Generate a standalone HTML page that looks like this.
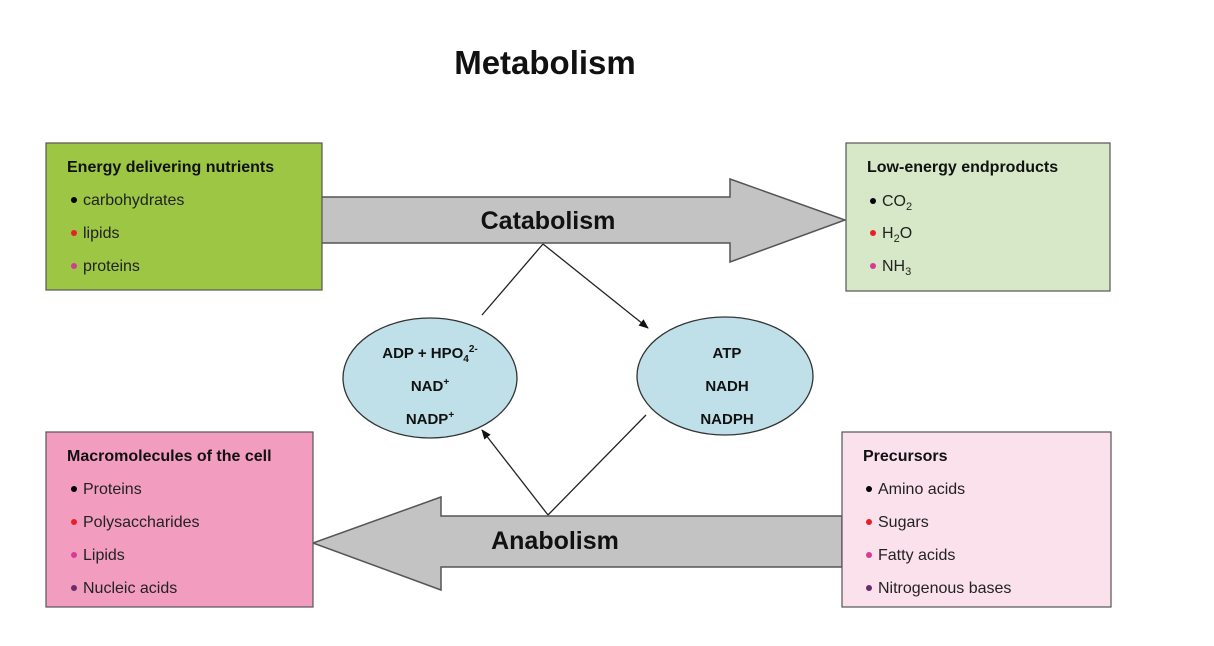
<!DOCTYPE html>
<html><head><meta charset="utf-8"><style>
html,body{margin:0;padding:0;background:#fff;width:1214px;height:646px;overflow:hidden;font-family:"Liberation Sans",Arial,sans-serif;}
</style></head><body>
<svg width="1214" height="646" xmlns="http://www.w3.org/2000/svg" font-family="Liberation Sans, Arial, sans-serif">
<defs><marker id="ah" markerWidth="10" markerHeight="10" refX="9" refY="5" orient="auto" markerUnits="userSpaceOnUse"><path d="M0,1 L10,5 L0,9 Z" fill="#111"/></marker></defs>
<text x="545" y="74" font-size="33" font-weight="bold" text-anchor="middle" fill="#111">Metabolism</text>

<!-- catabolism arrow -->
<polygon points="320,197 730,197 730,179 845,220 730,262 730,243 320,243" fill="#c3c3c3" stroke="#555" stroke-width="1.5"/>
<text x="548" y="229" font-size="25" font-weight="bold" text-anchor="middle" fill="#111">Catabolism</text>
<!-- anabolism arrow -->
<polygon points="842,516 441,516 441,497 313,543 441,590 441,567 842,567" fill="#c3c3c3" stroke="#555" stroke-width="1.5"/>
<text x="555" y="549" font-size="25" font-weight="bold" text-anchor="middle" fill="#111">Anabolism</text>

<!-- boxes -->
<rect x="46" y="143" width="276" height="147" fill="#9cc643" stroke="#555" stroke-width="1.2"/>
<text x="67" y="172" font-size="16" font-weight="bold" fill="#111">Energy delivering nutrients</text>
<g font-size="16" fill="#222">
<circle cx="74" cy="200" r="3" fill="#000"/><text x="83" y="205">carbohydrates</text>
<circle cx="74" cy="233" r="3" fill="#e8202a"/><text x="83" y="238">lipids</text>
<circle cx="74" cy="266" r="3" fill="#d43a96"/><text x="83" y="271">proteins</text>
</g>

<rect x="846" y="143" width="264" height="148" fill="#d6e8c7" stroke="#555" stroke-width="1.2"/>
<text x="867" y="172" font-size="16" font-weight="bold" fill="#111">Low-energy endproducts</text>
<g font-size="16" fill="#222">
<circle cx="873" cy="201" r="3" fill="#000"/><text x="882" y="206">CO<tspan font-size="11" dy="4">2</tspan></text>
<circle cx="873" cy="233" r="3" fill="#e8202a"/><text x="882" y="238">H<tspan font-size="11" dy="4">2</tspan><tspan dy="-4">O</tspan></text>
<circle cx="873" cy="266" r="3" fill="#d43a96"/><text x="882" y="271">NH<tspan font-size="11" dy="4">3</tspan></text>
</g>

<rect x="46" y="432" width="267" height="175" fill="#f29cc0" stroke="#555" stroke-width="1.2"/>
<text x="67" y="461" font-size="16" font-weight="bold" fill="#111">Macromolecules of the cell</text>
<g font-size="16" fill="#222">
<circle cx="74" cy="489" r="3" fill="#000"/><text x="83" y="494">Proteins</text>
<circle cx="74" cy="522" r="3" fill="#e8202a"/><text x="83" y="527">Polysaccharides</text>
<circle cx="74" cy="555" r="3" fill="#d43a96"/><text x="83" y="560">Lipids</text>
<circle cx="74" cy="588" r="3" fill="#6a2d6a"/><text x="83" y="593">Nucleic acids</text>
</g>

<rect x="842" y="432" width="269" height="175" fill="#fbe1ec" stroke="#555" stroke-width="1.2"/>
<text x="863" y="461" font-size="16" font-weight="bold" fill="#111">Precursors</text>
<g font-size="16" fill="#222">
<circle cx="869" cy="489" r="3" fill="#000"/><text x="878" y="494">Amino acids</text>
<circle cx="869" cy="522" r="3" fill="#e8202a"/><text x="878" y="527">Sugars</text>
<circle cx="869" cy="555" r="3" fill="#d43a96"/><text x="878" y="560">Fatty acids</text>
<circle cx="869" cy="588" r="3" fill="#6a2d6a"/><text x="878" y="593">Nitrogenous bases</text>
</g>

<!-- ellipses -->
<ellipse cx="430" cy="378" rx="87" ry="60" fill="#bfe0e8" stroke="#333" stroke-width="1.3"/>
<g font-size="15" font-weight="bold" fill="#111" text-anchor="middle">
<text x="430" y="358">ADP + HPO<tspan font-size="10" dy="4">4</tspan><tspan font-size="10" dy="-10">2-</tspan></text>
<text x="430" y="391">NAD<tspan font-size="10" dy="-6">+</tspan></text>
<text x="430" y="424">NADP<tspan font-size="10" dy="-6">+</tspan></text>
</g>
<ellipse cx="725" cy="376" rx="88" ry="59" fill="#bfe0e8" stroke="#333" stroke-width="1.3"/>
<g font-size="15" font-weight="bold" fill="#111" text-anchor="middle">
<text x="727" y="358">ATP</text>
<text x="727" y="391">NADH</text>
<text x="727" y="424">NADPH</text>
</g>

<!-- connectors -->
<g stroke="#222" stroke-width="1.3" fill="none">
<line x1="482" y1="315" x2="543" y2="244"/>
<line x1="543" y1="244" x2="648" y2="328" marker-end="url(#ah)"/>
<line x1="646" y1="415" x2="548" y2="515"/>
<line x1="548" y1="515" x2="482" y2="430" marker-end="url(#ah)"/>
</g>
</svg>
</body></html>
